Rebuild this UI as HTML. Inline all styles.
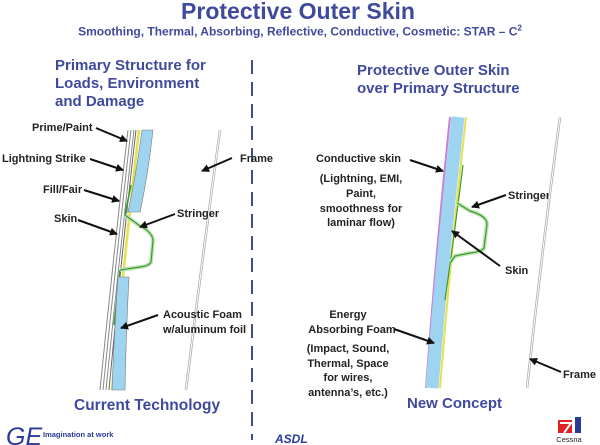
<!DOCTYPE html>
<html><head><style>body{margin:0;background:#fff}svg{display:block}</style></head><body>
<svg width="600" height="445" viewBox="0 0 600 445" xmlns="http://www.w3.org/2000/svg" font-family="Liberation Sans, Arial, sans-serif" font-weight="bold">
<defs><marker id="a" markerWidth="8" markerHeight="8" refX="7" refY="4" orient="auto" markerUnits="userSpaceOnUse"><path d="M0,0 L8,4 L0,8 z" fill="#111"/></marker></defs>
<text x="298" y="19" text-anchor="middle" font-size="23" fill="#3f4a9c">Protective Outer Skin</text>
<text x="300" y="35.5" text-anchor="middle" font-size="12" fill="#3f4a9c">Smoothing, Thermal, Absorbing, Reflective, Conductive, Cosmetic: STAR – C<tspan font-size="8" dy="-5">2</tspan></text>
<g font-size="15" fill="#3f4a9c">
<text x="55" y="70">Primary Structure for</text>
<text x="55" y="88">Loads, Environment</text>
<text x="55" y="106">and Damage</text>
<text x="357" y="75">Protective Outer Skin</text>
<text x="357" y="93">over Primary Structure</text>
<text x="74" y="410" font-size="15.5">Current Technology</text>
<text x="407" y="408" font-size="15">New Concept</text>
</g>
<line x1="252" y1="60" x2="252" y2="440" stroke="#3f4a9c" stroke-width="2" stroke-dasharray="14,8"/>
<g fill="none">
<path d="M128,130 Q113,260 100,390" stroke="#888" stroke-width="1"/>
<path d="M131,130 Q116,260 103,390" stroke="#888" stroke-width="1"/>
<path d="M134,130 Q119,260 106,390" stroke="#888" stroke-width="1"/>
<path d="M136,130 Q121,260 109,390" stroke="#666" stroke-width="1"/>
<path d="M139,130 Q124,260 112,390" stroke="#e6e04a" stroke-width="2.5"/>
<path d="M131,185 Q127,205 125,215 M120,270 Q117,300 114,325" stroke="#3a9a2a" stroke-width="1.5"/>
</g>
<path d="M142,130 L153,130 Q148,175 140,212 L128,212 Q136,175 142,130 Z" fill="#9fd4f0" stroke="#777" stroke-width="0.6"/>
<path d="M118,277 L129,277 Q126,335 125,390 L112,390 Q114,335 118,277 Z" fill="#9fd4f0" stroke="#777" stroke-width="0.6"/>
<path d="M125,215 L140,226 Q152,232 153,240 L151,262 Q149,266 140,267 L120,270" fill="none" stroke="#bfe3b8" stroke-width="4"/>
<path d="M125,215 L140,226 Q152,232 153,240 L151,262 Q149,266 140,267 L120,270" fill="none" stroke="#3a9a2a" stroke-width="1.2"/>
<path d="M220,130 Q202,260 186,390" fill="none" stroke="#aaa" stroke-width="2.5"/>
<path d="M220,130 Q202,260 186,390" fill="none" stroke="#fff" stroke-width="1"/>
<g font-size="11" fill="#222">
<text x="32" y="131">Prime/Paint</text>
<text x="2" y="162">Lightning Strike</text>
<text x="43" y="193">Fill/Fair</text>
<text x="54" y="222">Skin</text>
<text x="177" y="217">Stringer</text>
<text x="240" y="162">Frame</text>
<text x="163" y="318">Acoustic Foam</text>
<text x="163" y="333">w/aluminum foil</text>
<text x="316" y="162">Conductive skin</text>
<g text-anchor="middle">
<text x="361" y="182">(Lightning, EMI,</text>
<text x="361" y="197">Paint,</text>
<text x="361" y="212">smoothness for</text>
<text x="361" y="226">laminar flow)</text>
<text x="348" y="318">Energy</text>
<text x="352" y="333">Absorbing Foam</text>
<text x="348" y="352">(Impact, Sound,</text>
<text x="348" y="367">Thermal, Space</text>
<text x="348" y="381">for wires,</text>
<text x="348" y="396">antenna’s, etc.)</text>
</g>
<text x="508" y="199">Stringer</text>
<text x="505" y="274">Skin</text>
<text x="563" y="378">Frame</text>
</g>
<path d="M450,117 Q436,250 426,388" fill="none" stroke="#c77fd6" stroke-width="2"/>
<path d="M458,117 Q443,250 432,388" fill="none" stroke="#9fd4f0" stroke-width="13"/>
<path d="M466,117 Q451,250 440,388" fill="none" stroke="#e6e04a" stroke-width="2"/>
<path d="M463,165 Q455,230 445,300" fill="none" stroke="#3a9a2a" stroke-width="1.2"/>
<path d="M457,203 L470,211 Q487,216 487,224 L484,248 Q481,252 470,253 L455,256 L451,262" fill="none" stroke="#bfe3b8" stroke-width="4"/>
<path d="M457,203 L470,211 Q487,216 487,224 L484,248 Q481,252 470,253 L455,256 L451,262" fill="none" stroke="#3a9a2a" stroke-width="1.2"/>
<path d="M560,117 Q542,250 527,388" fill="none" stroke="#aaa" stroke-width="2.5"/>
<path d="M560,117 Q542,250 527,388" fill="none" stroke="#fff" stroke-width="1"/>
<g stroke="#111" stroke-width="2" marker-end="url(#a)">
<line x1="96" y1="128" x2="127" y2="141"/>
<line x1="90" y1="159" x2="123" y2="170"/>
<line x1="84" y1="190" x2="119" y2="201"/>
<line x1="78" y1="220" x2="117" y2="234"/>
<line x1="175" y1="214" x2="140" y2="227"/>
<line x1="232" y1="158" x2="202" y2="171"/>
<line x1="158" y1="315" x2="121" y2="328"/>
<line x1="410" y1="160" x2="443" y2="171"/>
<line x1="506" y1="195" x2="472" y2="207"/>
<line x1="500" y1="266" x2="452" y2="231"/>
<line x1="394" y1="329" x2="434" y2="343"/>
<line x1="561" y1="372" x2="530" y2="359"/>
</g>
<text x="6" y="445" font-family="Liberation Sans, sans-serif" font-weight="normal" font-style="italic" font-size="25" fill="#2a3a9a">GE</text>
<text x="43" y="437" font-size="7.5" fill="#2a3a9a">Imagination at work</text>
<text x="275" y="443" font-size="12" font-style="italic" fill="#2a3a9a">ASDL</text>
<rect x="558" y="420" width="14" height="13" fill="#d22"/>
<path d="M560,423 L571,423 L564,433" stroke="#fff" stroke-width="2" fill="none"/>
<rect x="575" y="417" width="6" height="16" fill="#2a3a9a"/>
<text x="569" y="442" text-anchor="middle" font-size="7.5" font-weight="normal" fill="#222">Cessna</text>
</svg>
</body></html>
